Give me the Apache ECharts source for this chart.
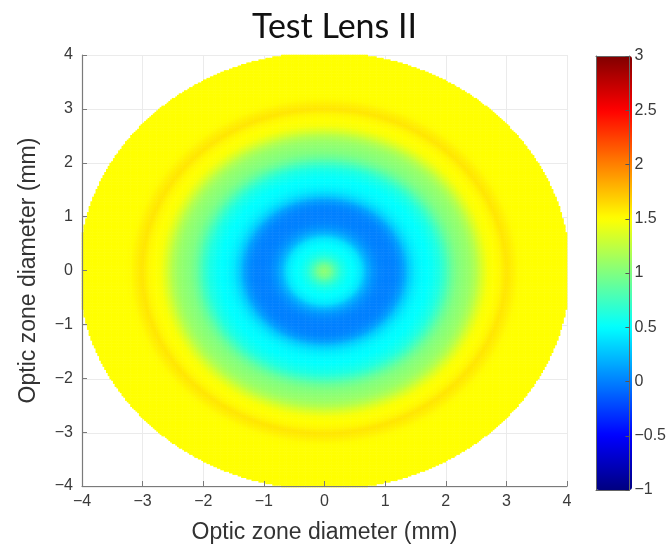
<!DOCTYPE html>
<html>
<head>
<meta charset="utf-8">
<script src="https://cdn.jsdelivr.net/npm/echarts@6/dist/echarts.min.js"></script>
<style>
  html, body { margin: 0; padding: 0; background: #ffffff; }
  #chart { width: 669px; height: 549px; }
</style>
</head>
<body>
<div id="chart"></div>
<script>
// Radial power profile of the lens (radius in mm -> value)
const profileRadius = [0.0, 0.1, 0.2, 0.3, 0.4, 0.5, 0.6, 0.7, 0.8, 0.9,
                       1.0, 1.1, 1.2, 1.3, 1.4, 1.5, 1.6, 1.7, 1.8, 1.9,
                       2.0, 2.1, 2.2, 2.3, 2.4, 2.5, 2.6, 2.7, 2.8, 2.9,
                       3.0, 3.1, 3.2, 3.3, 3.5, 4.0, 4.05];
const profileValue  = [1.05, 0.95, 0.75, 0.60, 0.52, 0.48, 0.40, 0.20, 0.08, 0.02,
                       0.00, 0.00, 0.03, 0.12, 0.30, 0.42, 0.48, 0.50, 0.55, 0.62,
                       0.75, 0.90, 1.00, 1.05, 1.10, 1.20, 1.35, 1.47, 1.50, 1.53,
                       1.60, 1.56, 1.51, 1.50, 1.50, 1.50, 1.50];
const lensRadius = 4.05;

// Axis ranges and ticks
const axisMin = -4, axisMax = 4, axisStep = 1;
const colorMin = -1, colorMax = 3, colorStep = 0.5;

// Jet colour map, evenly spaced from colorMin to colorMax
const jetColors = ['#000080', '#0000ff', '#0080ff', '#00ffff', '#80ff80',
                   '#ffff00', '#ff8000', '#ff0000', '#800000'];

const cells = 280;

function profileAt(r) {
  for (let k = 1; k < profileRadius.length; k++) {
    if (r <= profileRadius[k]) {
      const r0 = profileRadius[k - 1], r1 = profileRadius[k];
      const f = (r - r0) / (r1 - r0);
      return profileValue[k - 1] + f * (profileValue[k] - profileValue[k - 1]);
    }
  }
  return profileValue[profileValue.length - 1];
}

const cellSize = (axisMax - axisMin) / cells;
const cellCats = [];
for (let i = 0; i < cells; i++) cellCats.push(String(i));
const lensData = [];
for (let i = 0; i < cells; i++) {
  const x = axisMin + (i + 0.5) * cellSize;
  for (let j = 0; j < cells; j++) {
    const y = axisMin + (j + 0.5) * cellSize;
    const r = Math.sqrt(x * x + y * y);
    if (r <= lensRadius) lensData.push([i, j, profileAt(r)]);
  }
}

const minusFmt = v => String(v).replace('-', '\u2212');
const plot = { left: 82, top: 55, width: 485, height: 432 };
const bar = { left: 596, top: 56, width: 36, height: 434 };
const labelFont = { fontFamily: 'Liberation Sans, Arial, sans-serif', fontSize: 16, color: '#3a3a3a' };
const nameFont = { fontFamily: 'Liberation Sans, Arial, sans-serif', fontSize: 23, color: '#333333' };
const axisGray = '#7a7a7a';

const chart = echarts.init(document.getElementById('chart'), null, { renderer: 'canvas' });
chart.setOption({
  animation: false,
  backgroundColor: '#ffffff',
  title: {
    text: 'Test Lens II',
    left: 'center',
    top: 5,
    textStyle: { fontFamily: 'Lato, Open Sans, sans-serif', fontSize: 34, fontWeight: 'normal', color: '#111111' }
  },
  grid: [
    Object.assign({}, plot),   // heatmap cells
    Object.assign({}, plot),   // grid lines
    Object.assign({}, plot),   // axis lines and labels
    Object.assign({}, bar)     // colour bar frame and ticks
  ],
  xAxis: [
    { gridIndex: 0, type: 'category', data: cellCats, show: false, boundaryGap: true },
    { gridIndex: 1, type: 'value', min: axisMin, max: axisMax, interval: axisStep, z: 0,
      axisLine: { show: false }, axisTick: { show: false }, axisLabel: { show: false },
      splitLine: { show: true, lineStyle: { color: '#ebebeb', width: 1 } } },
    { gridIndex: 2, type: 'value', min: axisMin, max: axisMax, interval: axisStep, z: 5,
      name: 'Optic zone diameter (mm)', nameLocation: 'middle', nameGap: 35,
      nameTextStyle: nameFont,
      axisLine: { show: true, onZero: false, lineStyle: { color: axisGray, width: 1.2 } },
      axisTick: { show: true, inside: true, length: 5, lineStyle: { color: axisGray } },
      axisLabel: Object.assign({ margin: 8, formatter: minusFmt }, labelFont),
      splitLine: { show: false } },
    { gridIndex: 3, type: 'value', min: 0, max: 1, position: 'bottom', z: 10,
      axisLine: { show: true, onZero: false, lineStyle: { color: '#666666', width: 1 } },
      axisTick: { show: false }, axisLabel: { show: false }, splitLine: { show: false } },
    { gridIndex: 3, type: 'value', min: 0, max: 1, position: 'top', z: 10,
      axisLine: { show: true, onZero: false, lineStyle: { color: '#666666', width: 1 } },
      axisTick: { show: false }, axisLabel: { show: false }, splitLine: { show: false } }
  ],
  yAxis: [
    { gridIndex: 0, type: 'category', data: cellCats, show: false, boundaryGap: true },
    { gridIndex: 1, type: 'value', min: axisMin, max: axisMax, interval: axisStep, z: 0,
      axisLine: { show: false }, axisTick: { show: false }, axisLabel: { show: false },
      splitLine: { show: true, lineStyle: { color: '#ebebeb', width: 1 } } },
    { gridIndex: 2, type: 'value', min: axisMin, max: axisMax, interval: axisStep, z: 5,
      name: 'Optic zone diameter (mm)', nameLocation: 'middle', nameGap: 42, nameRotate: 90,
      nameTextStyle: nameFont,
      axisLine: { show: true, onZero: false, lineStyle: { color: axisGray, width: 1.2 } },
      axisTick: { show: true, inside: true, length: 5, lineStyle: { color: axisGray } },
      axisLabel: Object.assign({ margin: 9, formatter: minusFmt }, labelFont),
      splitLine: { show: false } },
    { gridIndex: 3, type: 'value', min: colorMin, max: colorMax, interval: colorStep, position: 'right', z: 10,
      axisLine: { show: true, onZero: false, lineStyle: { color: '#666666', width: 1 } },
      axisTick: { show: true, inside: true, length: 4, lineStyle: { color: '#555555' } },
      axisLabel: Object.assign({ margin: 5, formatter: minusFmt }, labelFont),
      splitLine: { show: false } },
    { gridIndex: 3, type: 'value', min: colorMin, max: colorMax, position: 'left', z: 10,
      axisLine: { show: true, onZero: false, lineStyle: { color: '#666666', width: 1 } },
      axisTick: { show: false }, axisLabel: { show: false }, splitLine: { show: false } }
  ],
  visualMap: {
    type: 'continuous',
    min: colorMin,
    max: colorMax,
    seriesIndex: 0,
    calculable: false,
    hoverLink: false,
    left: bar.left,
    top: bar.top,
    itemWidth: bar.width,
    itemHeight: bar.height,
    padding: 0,
    inRange: { color: jetColors }
  },
  series: [{
    type: 'heatmap',
    xAxisIndex: 0,
    yAxisIndex: 0,
    z: 2,
    progressive: 0,
    data: lensData,
    emphasis: { disabled: true }
  }]
});
</script>
</body>
</html>
